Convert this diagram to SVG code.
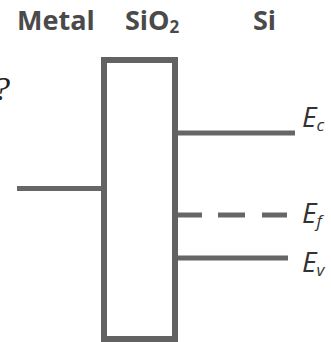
<svg xmlns="http://www.w3.org/2000/svg" width="331" height="342" viewBox="0 0 331 342">
<style>
.title{font-family:"Open Sans","Liberation Sans",sans-serif;font-weight:bold;font-size:27px;fill:#4a4a4a}
.sub{font-size:17px}
.lbl{font-family:"Open Sans","Liberation Sans",sans-serif;font-style:italic;font-size:28px;fill:#333333}
.lsub{font-size:17px}
.ln{stroke:#666666;stroke-width:5;fill:none}
</style>
<rect width="331" height="342" fill="#ffffff"/>
<g id="titles">
<text class="title" x="17" y="30">Metal</text>
<text class="title" x="125" y="30">SiO<tspan class="sub" dy="3">2</tspan></text>
<text class="title" x="253" y="30">Si</text>
</g>
<text x="-7" y="100" font-family="Liberation Serif, serif" font-style="italic" font-size="34" fill="#222222">?</text>
<g id="oxide">
<rect x="104" y="60" width="71" height="279" stroke="#626262" stroke-width="6" fill="#ffffff"/>
</g>
<g id="connectors">
<line class="ln" x1="17" y1="188.5" x2="101" y2="188.5"/>
<line class="ln" x1="178" y1="133" x2="295" y2="133"/>
<line class="ln" x1="178" y1="215" x2="202" y2="215"/>
<line class="ln" x1="218" y1="215" x2="245" y2="215"/>
<line class="ln" x1="262" y1="215" x2="287" y2="215"/>
<line class="ln" x1="178" y1="258" x2="288" y2="258"/>
</g>
<g id="Ec"><text class="lbl" x="302" y="127">E<tspan class="lsub" dy="4">c</tspan></text></g>
<g id="Ef"><text class="lbl" x="302" y="223">E<tspan class="lsub" dy="4">f</tspan></text></g>
<g id="Ev"><text class="lbl" x="302" y="272">E<tspan class="lsub" dy="4">v</tspan></text></g>
</svg>
